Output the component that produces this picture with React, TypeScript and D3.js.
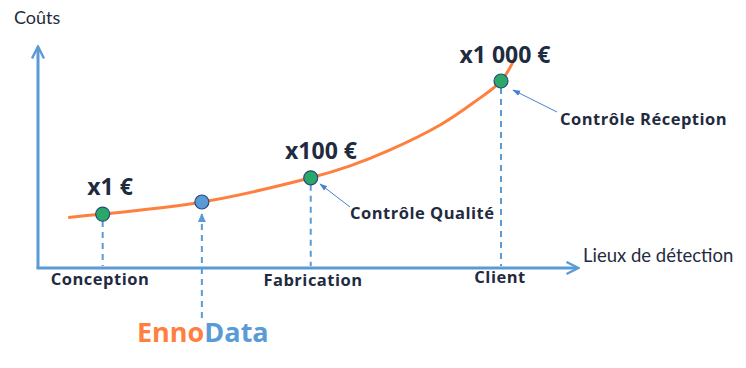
import React from "react";
import * as d3 from "d3";

const W = 746;
const H = 368;

// Abstract units: x = detection stage position, y = relative cost index
const curveX = [0.56, 1.2, 3.04, 5.06, 5.79, 6.49, 7.46, 8.07, 8.59, 8.85];
const curveY = [23, 24.5, 30, 41, 46.4, 53.2, 65, 75, 85, 95.5];

const stageNames = ["Conception", "Fabrication", "Client"];
const stageX = [1.2, 5.06, 8.59];
const stageY = [24.5, 41, 85];
const costLabels = ["x1 €", "x100 €", "x1 000 €"];

const ennoX = 3.04;
const ennoY = 30;

const controlLabels = ["Contrôle Qualité", "Contrôle Réception"];

const navy = "#1f2b40";
const axisBlue = "#5b9bd5";
const orange = "#ff7f3f";
const green = "#2aa86c";
const boldFont = "'Open Sans', Lato, sans-serif";
const font = "Lato, 'Open Sans', sans-serif";

export default function App() {
  const x = d3.scaleLinear().domain([0, 10]).range([38, 577]);
  const y = d3.scaleLinear().domain([0, 100]).range([268, 48]);
  const pts: [number, number][] = curveX.map((v, i) => [x(v), y(curveY[i])]);
  const line = d3.line().curve(d3.curveCatmullRom.alpha(0.5))(pts) as string;

  const labelStyle = {
    fontFamily: boldFont,
    fontWeight: 700,
    fontSize: 16.5,
    letterSpacing: 0.5,
    fill: navy,
  } as const;
  const costStyle = {
    fontFamily: boldFont,
    fontWeight: 700,
    fontSize: 23,
    fill: navy,
  } as const;

  return (
    <svg width={W} height={H} style={{ position: "absolute", left: 0, top: 0 }}>
      <defs>
        <marker id="axisArrow" viewBox="0 0 10 10" refX="8" refY="5" markerWidth="5" markerHeight="5" orient="auto">
          <path d="M1,1 L9,5 L1,9" fill="none" stroke={axisBlue} strokeWidth="1.6" />
        </marker>
        <marker id="dashArrow" viewBox="0 0 10 10" refX="8" refY="5" markerWidth="5" markerHeight="5" orient="auto">
          <path d="M0,1 L9,5 L0,9 Z" fill={axisBlue} />
        </marker>
        <marker id="thinArrow" viewBox="0 0 10 10" refX="9" refY="5" markerWidth="8" markerHeight="8" orient="auto">
          <path d="M0,1.5 L10,5 L0,8.5 Z" fill="#4a7fd0" />
        </marker>
      </defs>

      {/* axes */}
      <path
        d={`M${x(0)},${y(0)} L${x(0)},${y(100)}`}
        stroke={axisBlue}
        strokeWidth={3}
        fill="none"
        markerEnd="url(#axisArrow)"
      />
      <path
        d={`M${x(0) - 1.5},${y(0)} L${x(10)},${y(0)}`}
        stroke={axisBlue}
        strokeWidth={3}
        fill="none"
        markerEnd="url(#axisArrow)"
      />
      <text x={14} y={24} fontFamily={font} fontSize={18} fill={navy}>Coûts</text>
      <text x={583} y={262} fontFamily={font} fontSize={18.5} fill={navy}>Lieux de détection</text>

      {/* dashed drop lines */}
      {stageX.map((v, i) => (
        <line
          key={i}
          x1={x(v)}
          x2={x(v)}
          y1={y(stageY[i]) + 7}
          y2={y(0) - 2}
          stroke={axisBlue}
          strokeWidth={2}
          strokeDasharray="6,5"
        />
      ))}
      <line
        x1={x(ennoX)}
        x2={x(ennoX)}
        y1={318}
        y2={y(ennoY) + 12}
        stroke={axisBlue}
        strokeWidth={2}
        strokeDasharray="6,5"
        markerEnd="url(#dashArrow)"
      />

      {/* curve */}
      <path d={line} fill="none" stroke={orange} strokeWidth={3} />

      {/* points */}
      {stageX.map((v, i) => (
        <circle key={i} cx={x(v)} cy={y(stageY[i])} r={7} fill={green} stroke="#2b4a78" strokeWidth={1.2} />
      ))}
      <circle cx={x(ennoX)} cy={y(ennoY)} r={7} fill={axisBlue} stroke="#2b4a78" strokeWidth={1.2} />

      {/* cost labels */}
      <text x={110} y={195} textAnchor="middle" style={costStyle}>{costLabels[0]}</text>
      <text x={321} y={159} textAnchor="middle" style={costStyle}>{costLabels[1]}</text>
      <text x={505} y={63} textAnchor="middle" style={costStyle}>{costLabels[2]}</text>

      {/* stage labels */}
      <text x={100} y={285} textAnchor="middle" style={labelStyle}>{stageNames[0]}</text>
      <text x={313} y={286} textAnchor="middle" style={labelStyle}>{stageNames[1]}</text>
      <text x={500} y={283} textAnchor="middle" style={labelStyle}>{stageNames[2]}</text>

      {/* control annotations */}
      <line x1={350} y1={207} x2={320} y2={184} stroke="#4a7fd0" strokeWidth={1} markerEnd="url(#thinArrow)" />
      <text x={350} y={219} style={labelStyle}>{controlLabels[0]}</text>
      <line x1={557} y1={112} x2={513} y2={90} stroke="#4a7fd0" strokeWidth={1} markerEnd="url(#thinArrow)" />
      <text x={560} y={125} style={labelStyle}>{controlLabels[1]}</text>

      {/* brand */}
      <text x={137} y={342} fontFamily={boldFont} fontWeight={700} fontSize={27}>
        <tspan fill={orange}>Enno</tspan>
        <tspan fill={axisBlue}>Data</tspan>
      </text>
    </svg>
  );
}
